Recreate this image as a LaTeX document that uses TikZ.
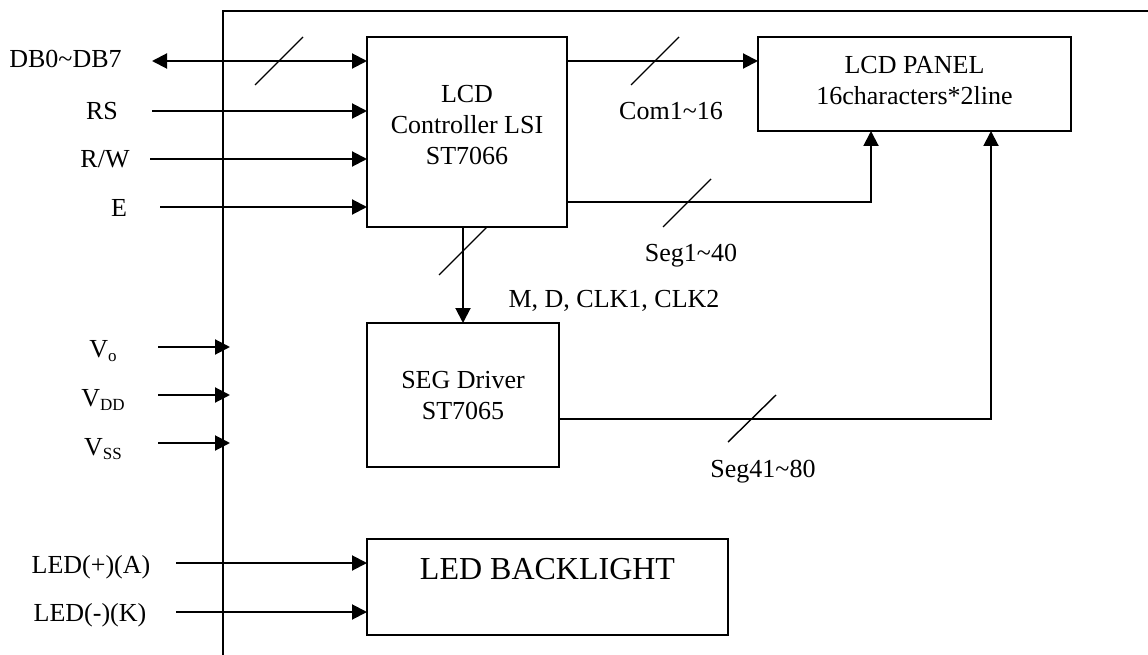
\documentclass[tikz,border=0pt]{standalone}
\usepackage{fontspec}
\setmainfont{Liberation Serif}
\usetikzlibrary{arrows.meta}
\begin{document}
\begin{tikzpicture}[x=1pt,y=-1pt,
  line width=2pt,
  box/.style={draw, line width=2pt, inner sep=0pt, outer sep=0pt},
  txt/.style={inner sep=0pt, font=\fontsize{26}{31}\selectfont, align=center},
  lbl/.style={inner sep=0pt, anchor=base, font=\fontsize{26}{31}\selectfont},
  arr/.style={-{Triangle[length=15pt,width=15pt]}},
  darr/.style={{Triangle[length=15pt,width=15pt]}-{Triangle[length=15pt,width=15pt]}},
  slash/.style={line width=1.4pt}]
\useasboundingbox (0,0) rectangle (1148,655);

% frame
\coordinate (fBL) at (223,655);
\coordinate (fTL) at (223,11);
\coordinate (fTR) at (1148,11);
\draw (fBL) -- (fTL) -- (fTR);

% boxes
\node[box, minimum width=200pt, minimum height=190pt] (ctrl) at (467,132) {};
\node[box, minimum width=313pt, minimum height=94pt] (panel) at (914.5,84) {};
\node[box, minimum width=192pt, minimum height=144pt] (seg) at (463,395) {};
\node[box, minimum width=361pt, minimum height=96pt] (led) at (547.5,587) {};

% box texts
\node[txt] (ctrlt) at (467,125) {LCD\\Controller LSI\\ST7066};
\node[txt] (panelt) at (914.5,81) {LCD PANEL\\16characters*2line};
\node[txt] (segt) at (463,396) {SEG Driver\\ST7065};
\node[txt, font=\fontsize{32}{38}\selectfont] (ledt) at (547.5,569.5) {LED BACKLIGHT};

% inputs to controller
\coordinate (dbL) at (152,61);
\coordinate (rsL) at (152,111);
\coordinate (rwL) at (150,159);
\coordinate (eL) at (160,207);
\draw[darr] (dbL) -- (dbL -| ctrl.west);
\draw[arr] (rsL) -- (rsL -| ctrl.west);
\draw[arr] (rwL) -- (rwL -| ctrl.west);
\draw[arr] (eL) -- (eL -| ctrl.west);

% controller to panel
\draw[arr] (ctrl.east |- dbL) -- (panel.west |- dbL);
\coordinate (s1c) at (871,202);
\draw[arr] (ctrl.east |- s1c) -- (s1c) -- (s1c |- panel.south);

% controller to seg driver
\draw[arr] (ctrl.south -| seg.north) -- (seg.north);

% seg driver to panel
\coordinate (s41c) at (991,419);
\draw[arr] (seg.east |- s41c) -- (s41c) -- (s41c |- panel.south);

% power arrows
\coordinate (voS) at (158,347); \coordinate (voE) at (230,347);
\coordinate (vdS) at (158,395); \coordinate (vdE) at (230,395);
\coordinate (vsS) at (158,443); \coordinate (vsE) at (230,443);
\draw[arr] (voS) -- (voE);
\draw[arr] (vdS) -- (vdE);
\draw[arr] (vsS) -- (vsE);

% LED arrows
\coordinate (laS) at (176,563);
\coordinate (lkS) at (176,612);
\draw[arr] (laS) -- (laS -| led.west);
\draw[arr] (lkS) -- (lkS -| led.west);

% bus slashes
\draw[slash] (255,85) -- (303,37);
\draw[slash] (631,85) -- (679,37);
\draw[slash] (663,227) -- (711,179);
\draw[slash] (439,275) -- (487,227);
\draw[slash] (728,442) -- (776,395);

% labels
\node[lbl] (dbt) at (65.5,68) {DB0\textasciitilde DB7};
\node[lbl] (rst) at (102,120) {RS};
\node[lbl] (rwt) at (105,168) {R/W};
\node[lbl] (et) at (119,217) {E};
\node[lbl] (comt) at (671,120) {Com1\textasciitilde 16};
\node[lbl] (s1t) at (691,261) {Seg1\textasciitilde 40};
\node[lbl] (mdt) at (614,307) {M, D, CLK1, CLK2};
\node[lbl] (s41t) at (763,477) {Seg41\textasciitilde 80};
\node[lbl] (vot) at (103,357) {V\raisebox{-4.5pt}{\fontsize{17}{17}\selectfont o}};
\node[lbl] (vdt) at (103,406) {V\raisebox{-4.5pt}{\fontsize{17}{17}\selectfont DD}};
\node[lbl] (vst) at (103,455) {V\raisebox{-4.5pt}{\fontsize{17}{17}\selectfont SS}};
\node[lbl] (lat) at (91,573) {LED(+)(A)};
\node[lbl] (lkt) at (90,621) {LED(-)(K)};
\end{tikzpicture}
\end{document}
